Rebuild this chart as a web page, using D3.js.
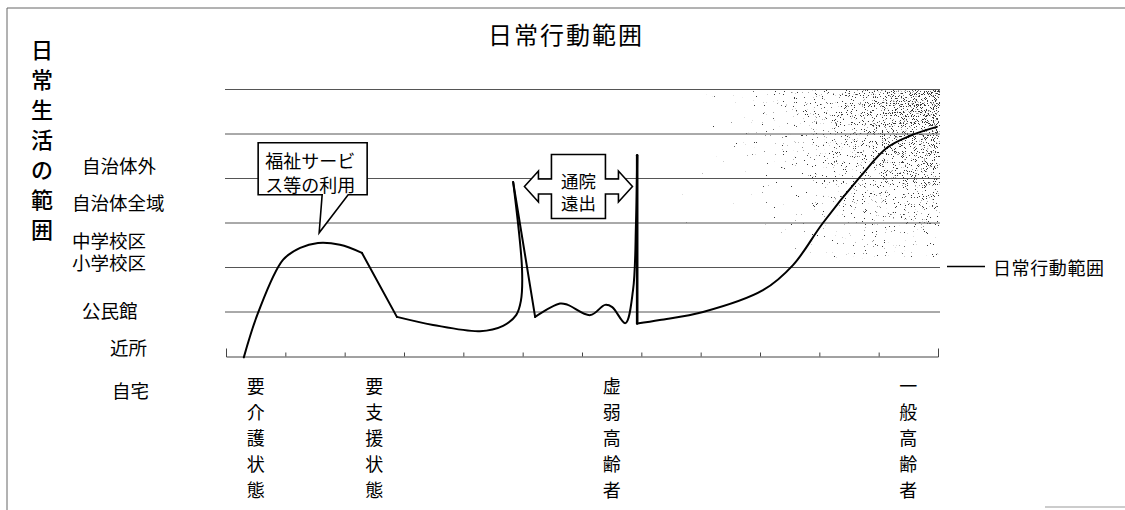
<!DOCTYPE html>
<html>
<head>
<meta charset="utf-8">
<script src="https://cdn.jsdelivr.net/npm/d3@7"></script>
<style>
  body { margin: 0; background: #fff; }
  svg { display: block; font-family: "Noto Sans CJK JP", "Noto Sans", sans-serif; }
</style>
</head>
<body>
<svg id="chart"></svg>
<script>
// ---- data (x in stage units 0..12, y in range levels 0..6) ----
const title = '日常行動範囲';
const sideTitle = '日常生活の範囲';
const legendLabel = '日常行動範囲';

const stageLabels = ['要介護状態', '要支援状態', '虚弱高齢者', '一般高齢者'];
const stagePos = [0.5, 2.5, 6.5, 11.5];

const levelLabels = ['自宅', '近所', '公民館', '小学校区', '中学校区', '自治体全域', '自治体外'];
const levelPos = [-0.75, 0.21, 1.04, 2.13, 2.62, 3.47, 4.3];
const gridLevels = [1, 2, 3, 4, 5, 6];

// curve pieces: smooth ones and straight ones
const careRise = [[0.30, -0.02], [0.54, 0.98], [0.96, 2.17], [1.25, 2.44], [1.55, 2.55], [1.92, 2.51], [2.29, 2.33]];
const supportDrop = [[2.29, 2.33], [2.88, 0.89]];
const frailLow = [[2.88, 0.89], [3.49, 0.71], [4.28, 0.57], [4.67, 0.69], [4.89, 0.93], [4.97, 1.25], [4.99, 1.94], [4.84, 3.92]];
const outingDrop = [[4.84, 3.92], [5.21, 0.89]];
const frailWave = [[5.21, 0.89], [5.63, 1.19], [5.76, 1.16], [6.14, 0.93], [6.39, 1.16], [6.51, 1.11], [6.73, 0.75], [6.86, 1.49], [6.91, 3.0], [6.93, 4.52]];
const frailEdge = [[6.93, 4.52], [6.93, 0.74]];
const generalRise = [[6.93, 0.74], [7.31, 0.82], [8.04, 1.0], [9.05, 1.49], [9.56, 2.06], [10.06, 3.0], [10.69, 4.04], [11.14, 4.69], [11.53, 4.96], [11.98, 5.16]];

// annotations
const welfareNote = { x: 1.57, y: 2.78, lines: ['福祉サービ', 'ス等の利用'] };
const outingNote = { x: 5.94, y: 3.82, lines: ['通院', '遠出'] };

// ---- layout ----
const width = 1125, height = 510;
const x = d3.scaleLinear([0, 12], [226, 938]);
const y = d3.scaleLinear([0, 6], [356.5, 89.5]);
const levelLabelX = [112, 110, 82, 72, 72, 72, 82];

const svg = d3.select('#chart')
  .attr('width', width)
  .attr('height', height)
  .attr('viewBox', [0, 0, width, height]);

svg.append('rect').attr('width', width).attr('height', height).attr('fill', '#fff');

// frame (scanned page edges)
svg.append('path')
  .attr('d', `M7,${height} V8 H${width}`)
  .attr('fill', 'none').attr('stroke', '#666').attr('stroke-width', 1);
svg.append('line')
  .attr('x1', 1045).attr('x2', width).attr('y1', 507).attr('y2', 507)
  .attr('stroke', '#999').attr('stroke-width', 1);

// stipple shading at top right: noise dots, denser toward the corner
const defs = svg.append('defs');
const grad = defs.append('radialGradient')
  .attr('id', 'stippleGrad')
  .attr('gradientUnits', 'userSpaceOnUse')
  .attr('cx', 950).attr('cy', 92).attr('r', 270);
grad.append('stop').attr('offset', 0).attr('stop-color', '#fff');
grad.append('stop').attr('offset', 1).attr('stop-color', '#000');

const filter = defs.append('filter')
  .attr('id', 'stipple')
  .attr('color-interpolation-filters', 'sRGB')
  .attr('x', 0).attr('y', 0).attr('width', 1).attr('height', 1);
filter.append('feTurbulence')
  .attr('type', 'fractalNoise').attr('baseFrequency', 1.1)
  .attr('numOctaves', 2).attr('seed', 7).attr('result', 'noise');
filter.append('feColorMatrix')
  .attr('in', 'noise').attr('type', 'matrix')
  .attr('values', '1 0 0 0 0  0 1 0 0 0  0 0 1 0 0  0 0 0 0 1')
  .attr('result', 'solidNoise');
filter.append('feComposite')
  .attr('in', 'solidNoise').attr('in2', 'SourceGraphic')
  .attr('operator', 'arithmetic')
  .attr('k1', 0).attr('k2', 1).attr('k3', 0.3).attr('k4', 0)
  .attr('result', 'mix');
filter.append('feColorMatrix')
  .attr('in', 'mix').attr('type', 'matrix')
  .attr('values', '0 0 0 0 0.22  0 0 0 0 0.22  0 0 0 0 0.22  22 0 0 0 -18.3');

svg.append('rect')
  .attr('x', 670).attr('y', y(6))
  .attr('width', x(12) + 2 - 670).attr('height', 170)
  .attr('fill', 'url(#stippleGrad)')
  .attr('filter', 'url(#stipple)');

// title
svg.append('text')
  .attr('x', 566).attr('y', 33)
  .attr('text-anchor', 'middle').attr('dominant-baseline', 'central')
  .attr('font-size', 24).attr('letter-spacing', 2)
  .text(title);

// vertical side title
svg.append('g')
  .selectAll('text')
  .data(Array.from(sideTitle))
  .join('text')
    .attr('x', 42).attr('y', (d, i) => 48 + i * 30)
    .attr('text-anchor', 'middle').attr('dominant-baseline', 'central')
    .attr('font-size', 22).attr('font-weight', 500)
    .text(d => d);

// grid lines
svg.append('g')
  .selectAll('line')
  .data(gridLevels)
  .join('line')
    .attr('x1', 225).attr('x2', x(12) + 2)
    .attr('y1', d => y(d)).attr('y2', d => y(d))
    .attr('stroke', '#555').attr('stroke-width', 1);

// x axis with upward ticks
svg.append('g')
  .attr('transform', `translate(0,${y(0)})`)
  .call(d3.axisBottom(x).ticks(12).tickSizeInner(-4).tickSizeOuter(-8).tickFormat(''))
  .call(g => g.select('.domain').attr('stroke', '#444'))
  .call(g => g.selectAll('.tick line').attr('stroke', '#444'));

// level labels
svg.append('g')
  .selectAll('text')
  .data(levelLabels)
  .join('text')
    .attr('x', (d, i) => levelLabelX[i])
    .attr('y', (d, i) => y(levelPos[i]))
    .attr('dominant-baseline', 'central')
    .attr('font-size', 18.5)
    .text(d => d);

// stage labels (vertical)
const stage = svg.append('g')
  .selectAll('g')
  .data(stageLabels)
  .join('g')
    .attr('transform', (d, i) => `translate(${x(stagePos[i])},385)`);
stage.selectAll('text')
  .data(d => Array.from(d))
  .join('text')
    .attr('y', (d, i) => i * 26)
    .attr('text-anchor', 'middle').attr('dominant-baseline', 'central')
    .attr('font-size', 18)
    .text(d => d);

// activity range curve
const smooth = d3.line().x(d => x(d[0])).y(d => y(d[1])).curve(d3.curveCatmullRom.alpha(0.5));
const straight = d3.line().x(d => x(d[0])).y(d => y(d[1]));
const pieces = [
  [careRise, smooth, 2], [supportDrop, straight, 2], [frailLow, smooth, 2],
  [outingDrop, straight, 2], [frailWave, smooth, 2], [frailEdge, straight, 2.6],
  [generalRise, smooth, 2]
];
svg.append('g')
  .attr('fill', 'none').attr('stroke', '#000')
  .attr('stroke-linejoin', 'round').attr('stroke-linecap', 'round')
  .selectAll('path')
  .data(pieces)
  .join('path')
    .attr('d', d => d[1](d[0]))
    .attr('stroke-width', d => d[2]);

// welfare service callout
{
  const tx = x(welfareNote.x), ty = y(welfareNote.y);
  const bx0 = tx - 61, bx1 = tx + 48, by0 = ty - 90, by1 = ty - 38;
  const g = svg.append('g');
  g.append('path')
    .attr('d', `M${bx0},${by0} H${bx1} V${by1} H${tx + 29} L${tx},${ty} L${tx + 3},${by1} H${bx0} Z`)
    .attr('fill', '#fff').attr('stroke', '#000').attr('stroke-width', 1.6)
    .attr('stroke-linejoin', 'miter');
  g.append('text')
    .attr('font-size', 18)
    .selectAll('tspan')
    .data(welfareNote.lines)
    .join('tspan')
      .attr('x', bx0 + 7).attr('y', (d, i) => by0 + 25 + i * 24)
      .text(d => d);
}

// outing double arrow
{
  const cx = x(outingNote.x), cy = y(outingNote.y);
  const bw = 27, bh = 32, tip = 54, head = 40, hh = 15.5, sh = 7.5;
  const pts = [
    [-tip, 0], [-head, -hh], [-head, -sh], [-bw, -sh], [-bw, -bh], [bw, -bh], [bw, -sh],
    [head, -sh], [head, -hh], [tip, 0], [head, hh], [head, sh], [bw, sh], [bw, bh],
    [-bw, bh], [-bw, sh], [-head, sh], [-head, hh]
  ];
  const g = svg.append('g').attr('transform', `translate(${cx},${cy})`);
  g.append('path')
    .attr('d', 'M' + pts.map(p => p.join(',')).join('L') + 'Z')
    .attr('fill', '#fff').attr('stroke', '#000').attr('stroke-width', 1.6);
  g.append('text')
    .attr('text-anchor', 'middle')
    .attr('font-size', 17.5)
    .selectAll('tspan')
    .data(outingNote.lines)
    .join('tspan')
      .attr('x', 0).attr('y', (d, i) => 1 + i * 22.5)
      .text(d => d);
}

// legend
svg.append('line')
  .attr('x1', 947).attr('x2', 985).attr('y1', y(2) - 1).attr('y2', y(2) - 1)
  .attr('stroke', '#000').attr('stroke-width', 1.3);
svg.append('text')
  .attr('x', 993).attr('y', y(2) - 1)
  .attr('dominant-baseline', 'central')
  .attr('font-size', 18).attr('letter-spacing', 0.6)
  .text(legendLabel);
</script>
</body>
</html>
